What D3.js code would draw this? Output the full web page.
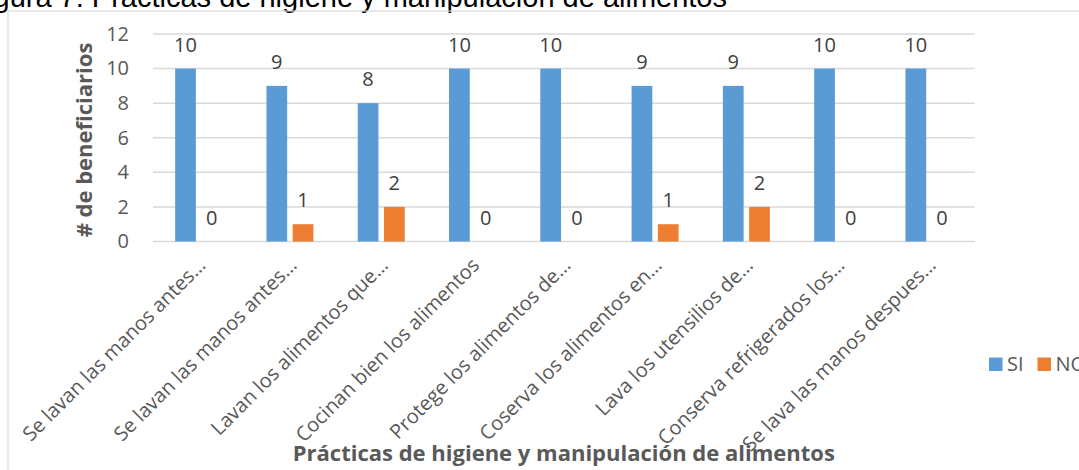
<!DOCTYPE html>
<html>
<head>
<meta charset="utf-8">
<script src="https://cdn.jsdelivr.net/npm/d3@7"></script>
<style>
  html, body { margin: 0; padding: 0; background: #fff; overflow: hidden; }
  svg { display: block; }
</style>
</head>
<body>
<div id="chart"></div>
<script>
// tamaño de la figura
var width = 1079;
var height = 470;

// datos
var categorias = [
  "Se lavan las manos antes…",
  "Se lavan las manos antes…",
  "Lavan los alimentos que…",
  "Cocinan bien los alimentos",
  "Protege los alimentos de…",
  "Coserva los alimentos en…",
  "Lava los utensilios de…",
  "Conserva refrigerados los…",
  "Se lava las manos despues…"
];
var series = ["SI", "NO"];
var valoresSI = [10, 9, 8, 10, 10, 9, 9, 10, 10];
var valoresNO = [0, 1, 2, 0, 0, 1, 2, 0, 0];
var ticksY = [0, 2, 4, 6, 8, 10, 12];
var colores = ["#5B9BD5", "#ED7D31"];

var tituloFigura = "Figura 7: Prácticas de higiene y manipulación de alimentos";
var tituloX = "Prácticas de higiene y manipulación de alimentos";
var tituloY = "# de beneficiarios";

// área del gráfico
var plot = { left: 153, right: 974.6, top: 34, bottom: 241.5 };

var svg = d3.select("#chart")
  .append("svg")
  .attr("width", width)
  .attr("height", height);

// título de la figura (recortado arriba)
svg.append("text")
  .attr("x", 727)
  .attr("y", 7)
  .attr("text-anchor", "end")
  .style("font-family", "'Liberation Sans', Arial, sans-serif")
  .style("font-size", "29px")
  .style("fill", "#000")
  .text(tituloFigura);

// marco del gráfico
svg.append("rect")
  .attr("x", 8)
  .attr("y", 11)
  .attr("width", 1200)
  .attr("height", 600)
  .style("fill", "none")
  .style("stroke", "#d9d9d9")
  .style("stroke-width", 1.2);

// escalas
var x0 = d3.scaleBand()
  .domain(d3.range(categorias.length))
  .range([plot.left, plot.right])
  .padding(0);

var x1 = d3.scaleBand()
  .domain(series)
  .range([x0.bandwidth() / 2 - 23.5, x0.bandwidth() / 2 + 23.5])
  .paddingInner(0.21);

var y = d3.scaleLinear()
  .domain([0, 12])
  .range([plot.bottom, plot.top]);

var fuente = "'Open Sans', 'Noto Sans', sans-serif";

// líneas de la cuadrícula
svg.append("g")
  .selectAll("line")
  .data(ticksY)
  .enter()
  .append("line")
  .attr("x1", plot.left)
  .attr("x2", plot.right)
  .attr("y1", function(d) { return y(d); })
  .attr("y2", function(d) { return y(d); })
  .style("stroke", "#d9d9d9")
  .style("stroke-width", 1.5);

// etiquetas del eje Y
var ejeY = d3.axisLeft(y).tickValues(ticksY).tickSize(0).tickPadding(0);
var gY = svg.append("g")
  .attr("transform", "translate(129,0)")
  .call(ejeY);
gY.select(".domain").remove();
gY.selectAll("text")
  .style("font-family", fuente)
  .style("font-size", "20px")
  .style("fill", "#595959");

// datos por categoría
var filas = categorias.map(function(c, i) {
  return { i: i, valores: [valoresSI[i], valoresNO[i]] };
});

var grupos = svg.append("g")
  .selectAll("g")
  .data(filas)
  .enter()
  .append("g")
  .attr("transform", function(d) { return "translate(" + x0(d.i) + ",0)"; });

var celdas = grupos.selectAll("g")
  .data(function(d) {
    return series.map(function(s, k) { return { serie: s, k: k, valor: d.valores[k] }; });
  })
  .enter()
  .append("g");

// barras
celdas.append("rect")
  .attr("x", function(d) { return x1(d.serie); })
  .attr("y", function(d) { return y(d.valor); })
  .attr("width", x1.bandwidth())
  .attr("height", function(d) { return y(0) - y(d.valor); })
  .style("fill", function(d) { return colores[d.k]; });

// etiquetas de datos
celdas.append("text")
  .attr("x", function(d) { return x1(d.serie) + x1.bandwidth() / 2; })
  .attr("y", function(d) { return y(d.valor) - 17; })
  .attr("text-anchor", "middle")
  .style("font-family", fuente)
  .style("font-size", "20px")
  .style("fill", "#404040")
  .text(function(d) { return d.valor; });

// etiquetas del eje X (giradas)
svg.append("g")
  .selectAll("text")
  .data(categorias)
  .enter()
  .append("text")
  .attr("transform", function(d, i) {
    var cx = x0(i) + x0.bandwidth() / 2;
    return "translate(" + (cx + 8) + "," + (plot.bottom + 25) + ") rotate(-45)";
  })
  .attr("text-anchor", "end")
  .style("font-family", fuente)
  .style("font-size", "20px")
  .style("fill", "#595959")
  .text(function(d) { return d; });

// título del eje X
svg.append("text")
  .attr("x", (plot.left + plot.right) / 2)
  .attr("y", 461)
  .attr("text-anchor", "middle")
  .style("font-family", fuente)
  .style("font-size", "22px")
  .style("font-weight", "bold")
  .style("fill", "#595959")
  .text(tituloX);

// título del eje Y
svg.append("text")
  .attr("transform", "translate(92,140) rotate(-90)")
  .attr("text-anchor", "middle")
  .style("font-family", fuente)
  .style("font-size", "22px")
  .style("font-weight", "bold")
  .style("fill", "#595959")
  .text(tituloY);

// leyenda
var leyenda = svg.append("g")
  .selectAll("g")
  .data(series)
  .enter()
  .append("g")
  .attr("transform", function(d, i) { return "translate(" + (989 + i * 48.5) + ",357.5)"; });

leyenda.append("rect")
  .attr("width", 13.5)
  .attr("height", 13.5)
  .style("fill", function(d, i) { return colores[i]; });

leyenda.append("text")
  .attr("x", 18)
  .attr("y", 13.5)
  .style("font-family", fuente)
  .style("font-size", "20px")
  .style("fill", "#595959")
  .text(function(d) { return d; });
</script>
</body>
</html>
